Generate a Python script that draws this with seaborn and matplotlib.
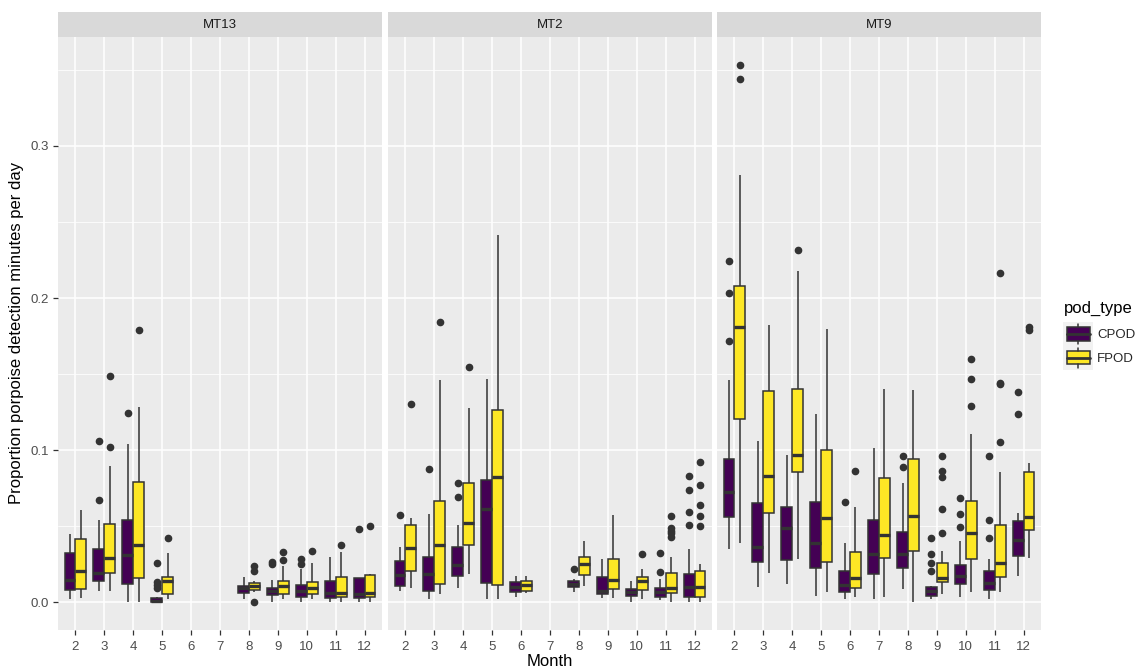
import numpy as np
import pandas as pd
import matplotlib
matplotlib.use("Agg")
import matplotlib.pyplot as plt
import seaborn as sns
from matplotlib.ticker import MultipleLocator, FormatStrFormatter
from matplotlib.legend_handler import HandlerBase
from matplotlib.patches import Rectangle, Patch
from matplotlib.lines import Line2D

months = [2, 3, 4, 5, 6, 7, 8, 9, 10, 11, 12]
pod_types = ["CPOD", "FPOD"]
sites = ["MT13", "MT2", "MT9"]
pod_colors = ["#440154", "#FDE725"]

# month, whisker low, q1, median, q3, whisker high
mt13_cpod = [
    (2, 0.0022, 0.0079, 0.0145, 0.0324, 0.0447),
    (3, 0.0070, 0.0140, 0.0189, 0.0347, 0.0540),
    (4, 0.0002, 0.0116, 0.0307, 0.0537, 0.1040),
    (5, 0.0000, 0.0002, 0.0010, 0.0024, 0.0030),
    (8, 0.0018, 0.0061, 0.0094, 0.0105, 0.0166),
    (9, 0.0000, 0.0046, 0.0072, 0.0094, 0.0145),
    (10, 0.0000, 0.0035, 0.0072, 0.0112, 0.0215),
    (11, 0.0000, 0.0024, 0.0061, 0.0140, 0.0294),
    (12, 0.0000, 0.0024, 0.0050, 0.0160, 0.0160),
]
mt13_cpod_out = {3: [0.067, 0.106], 4: [0.1245], 5: [0.009, 0.011, 0.013, 0.026],
                 9: [0.025, 0.0265], 10: [0.025, 0.0283], 12: [0.048]}

mt13_fpod = [
    (2, 0.0028, 0.0083, 0.0202, 0.0414, 0.0607),
    (3, 0.0072, 0.0189, 0.0292, 0.0511, 0.0895),
    (4, 0.0002, 0.0158, 0.0377, 0.0792, 0.1285),
    (5, 0.0018, 0.0053, 0.0138, 0.0167, 0.0320),
    (8, 0.0065, 0.0078, 0.0105, 0.0125, 0.0140),
    (9, 0.0018, 0.0053, 0.0105, 0.0140, 0.0240),
    (10, 0.0018, 0.0050, 0.0092, 0.0135, 0.0255),
    (11, 0.0000, 0.0031, 0.0061, 0.0162, 0.0330),
    (12, 0.0000, 0.0035, 0.0057, 0.0178, 0.0185),
]
mt13_fpod_out = {3: [0.102, 0.149], 4: [0.179], 5: [0.0419], 8: [0.0, 0.0204, 0.0237],
                 9: [0.0275, 0.033], 10: [0.0336], 11: [0.0375], 12: [0.0502]}

mt2_cpod = [
    (2, 0.0072, 0.0105, 0.0178, 0.0272, 0.0360),
    (3, 0.0022, 0.0074, 0.0182, 0.0294, 0.0579),
    (4, 0.0090, 0.0171, 0.0241, 0.0362, 0.0507),
    (5, 0.0018, 0.0127, 0.0612, 0.0803, 0.1467),
    (6, 0.0035, 0.0068, 0.0101, 0.0134, 0.0171),
    (8, 0.0064, 0.0097, 0.0120, 0.0140, 0.0151),
    (9, 0.0029, 0.0053, 0.0070, 0.0164, 0.0281),
    (10, 0.0000, 0.0041, 0.0066, 0.0086, 0.0138),
    (11, 0.0011, 0.0033, 0.0066, 0.0094, 0.0149),
    (12, 0.0000, 0.0035, 0.0097, 0.0184, 0.0351),
]
mt2_cpod_out = {2: [0.0572], 3: [0.0875], 4: [0.0693, 0.0785], 8: [0.0215],
                11: [0.0197, 0.0324], 12: [0.0507, 0.059, 0.0737, 0.0827]}

mt2_fpod = [
    (2, 0.0092, 0.0202, 0.0355, 0.0509, 0.0550),
    (3, 0.0051, 0.0118, 0.0377, 0.0664, 0.1460),
    (4, 0.0182, 0.0375, 0.0518, 0.0781, 0.1274),
    (5, 0.0022, 0.0110, 0.0822, 0.1263, 0.2414),
    (6, 0.0060, 0.0074, 0.0110, 0.0138, 0.0171),
    (8, 0.0105, 0.0180, 0.0252, 0.0294, 0.0399),
    (9, 0.0029, 0.0086, 0.0143, 0.0283, 0.0575),
    (10, 0.0018, 0.0079, 0.0136, 0.0166, 0.0219),
    (11, 0.0000, 0.0059, 0.0090, 0.0189, 0.0294),
    (12, 0.0000, 0.0035, 0.0101, 0.0202, 0.0248),
]
mt2_fpod_out = {2: [0.130], 3: [0.184], 4: [0.1548], 10: [0.0314],
                11: [0.043, 0.0452, 0.047, 0.0487, 0.0564],
                12: [0.050, 0.0564, 0.0638, 0.0772, 0.0923]}

mt9_cpod = [
    (2, 0.0349, 0.0561, 0.0722, 0.0939, 0.1460),
    (3, 0.0099, 0.0263, 0.0362, 0.0653, 0.1059),
    (4, 0.0118, 0.0276, 0.0485, 0.0627, 0.0965),
    (5, 0.0041, 0.0226, 0.0386, 0.0656, 0.1239),
    (6, 0.0022, 0.0068, 0.0114, 0.0206, 0.0386),
    (7, 0.0018, 0.0186, 0.0314, 0.0539, 0.1011),
    (8, 0.0086, 0.0224, 0.0318, 0.0458, 0.0781),
    (9, 0.0018, 0.0041, 0.0074, 0.0099, 0.0105),
    (10, 0.0035, 0.0116, 0.0173, 0.0243, 0.0399),
    (11, 0.0018, 0.0077, 0.0123, 0.0206, 0.0285),
    (12, 0.0173, 0.0305, 0.0408, 0.0533, 0.0583),
]
mt9_cpod_out = {2: [0.1717, 0.2035, 0.2243], 6: [0.0658], 8: [0.0886, 0.0958],
                9: [0.0202, 0.0255, 0.0316, 0.0423], 10: [0.0493, 0.058, 0.0686],
                11: [0.0423, 0.0539, 0.0958], 12: [0.1235, 0.1382]}

mt9_fpod = [
    (2, 0.0386, 0.1202, 0.1807, 0.2081, 0.2809),
    (3, 0.0189, 0.0583, 0.0829, 0.1386, 0.1820),
    (4, 0.0285, 0.0853, 0.0969, 0.1401, 0.2178),
    (5, 0.0068, 0.0265, 0.0551, 0.0998, 0.1796),
    (6, 0.0035, 0.0094, 0.0156, 0.0331, 0.0623),
    (7, 0.0035, 0.0291, 0.0441, 0.0814, 0.1400),
    (8, 0.0000, 0.0336, 0.0568, 0.0943, 0.1393),
    (9, 0.0055, 0.0134, 0.0160, 0.0255, 0.0337),
    (10, 0.0064, 0.0286, 0.0452, 0.0666, 0.1103),
    (11, 0.0064, 0.0166, 0.0255, 0.0507, 0.0853),
    (12, 0.0288, 0.0474, 0.0557, 0.0857, 0.0913),
]
mt9_fpod_out = {2: [0.3439, 0.3535], 4: [0.2316], 6: [0.086],
                9: [0.0452, 0.0612, 0.082, 0.0862, 0.0958],
                10: [0.1291, 0.1465, 0.1599], 11: [0.1051, 0.1437, 0.1443, 0.2167],
                12: [0.179, 0.181]}

site_data = {
    "MT13": {"CPOD": (mt13_cpod, mt13_cpod_out), "FPOD": (mt13_fpod, mt13_fpod_out)},
    "MT2": {"CPOD": (mt2_cpod, mt2_cpod_out), "FPOD": (mt2_fpod, mt2_fpod_out)},
    "MT9": {"CPOD": (mt9_cpod, mt9_cpod_out), "FPOD": (mt9_fpod, mt9_fpod_out)},
}


# turn the five-number summary + outliers into values whose boxplot stats match
def expand(row, outs):
    m, lo, q1, med, q3, hi = row
    low = sorted(o for o in outs if o < q1)
    high = sorted(o for o in outs if o > q3)
    k = max(len(low), len(high)) + 2
    vals = (low + [lo] * (k - len(low)) + [q1] * k + [med] * k
            + [q3] * (k - len(high)) + [hi] + high)
    return vals


records = []
for site in sites:
    for pod in pod_types:
        stats, outs = site_data[site][pod]
        for row in stats:
            for v in expand(row, outs.get(row[0], [])):
                records.append((site, row[0], pod, v))
df = pd.DataFrame(records, columns=["site", "month", "pod_type", "value"])

sns.set_theme(style="darkgrid", rc={"axes.facecolor": "#EBEBEB", "grid.color": "white"})
plt.rcParams["font.family"] = ["Liberation Sans", "DejaVu Sans"]

W, H = 1141, 669
fig = plt.figure(figsize=(W / 100, H / 100), dpi=100)

panel_left = [58, 388, 717]
panel_w = 324
top, bottom = 37, 630
strip_top = 12

for i, site in enumerate(sites):
    ax = fig.add_axes([panel_left[i] / W, (H - bottom) / H, panel_w / W, (bottom - top) / H])
    sns.boxplot(data=df[df.site == site], x="month", y="value", hue="pod_type",
                order=months, hue_order=pod_types, palette=pod_colors,
                width=0.75, saturation=1, linewidth=1.1, linecolor="#333333",
                showcaps=False, legend=False, ax=ax,
                flierprops=dict(marker="o", markersize=4.5, markerfacecolor="#333333",
                                markeredgecolor="#333333"),
                medianprops=dict(linewidth=2.4))
    ax.set_xlim(-0.6, len(months) - 0.4)
    ax.set_ylim(-0.0184, 0.3717)
    ax.yaxis.set_major_locator(MultipleLocator(0.1))
    ax.yaxis.set_minor_locator(MultipleLocator(0.05))
    ax.yaxis.set_major_formatter(FormatStrFormatter("%.1f"))
    ax.grid(True, which="major", color="white", linewidth=1.1)
    ax.grid(True, which="minor", axis="y", color="white", linewidth=0.55)
    ax.set_axisbelow(True)
    for sp in ax.spines.values():
        sp.set_visible(False)
    ax.tick_params(which="major", length=3.5, width=0.9, color="#333333",
                   labelcolor="#4D4D4D", labelsize=9.5, pad=3, bottom=True, left=True)
    ax.tick_params(axis="x", pad=4.5)
    ax.tick_params(which="minor", length=0)
    ax.set_xlabel("")
    ax.set_ylabel("")
    if i > 0:
        ax.tick_params(axis="y", left=False, labelleft=False)

    # facet strip
    sax = fig.add_axes([panel_left[i] / W, (H - top) / H, panel_w / W, (top - strip_top) / H])
    sax.set_facecolor("#D9D9D9")
    sax.set_xticks([])
    sax.set_yticks([])
    for sp in sax.spines.values():
        sp.set_visible(False)
    sax.text(0.5, 0.5, site, ha="center", va="center", fontsize=9.5, color="#1A1A1A",
             transform=sax.transAxes)

fig.text((58 + 1041) / 2 / W, 1 - 662 / H, "Month", ha="center", va="center",
         fontsize=12, color="black")
fig.text(17 / W, 1 - 333 / H, "Proportion porpoise detection minutes per day",
         ha="center", va="center", rotation=90, fontsize=12, color="black")


class BoxKey(HandlerBase):
    def create_artists(self, legend, orig_handle, xdescent, ydescent, width, height,
                       fontsize, trans):
        x0, y0 = -xdescent, -ydescent
        cx = x0 + width / 2
        bw = width * 0.75
        bg = Rectangle((x0, y0), width, height, facecolor="#F2F2F2", edgecolor="none",
                       transform=trans)
        box = Rectangle((cx - bw / 2, y0 + height * 0.22), bw, height * 0.56,
                        facecolor=orig_handle.get_facecolor(), edgecolor="#333333",
                        linewidth=1.1, transform=trans)
        med = Line2D([cx - bw / 2, cx + bw / 2], [y0 + height / 2] * 2, color="#333333",
                     linewidth=2.0, transform=trans)
        wl = Line2D([cx, cx], [y0 + height * 0.08, y0 + height * 0.22], color="#333333",
                    linewidth=1.1, transform=trans)
        wh = Line2D([cx, cx], [y0 + height * 0.78, y0 + height * 0.92], color="#333333",
                    linewidth=1.1, transform=trans)
        return [bg, box, med, wl, wh]


fig.text(1064 / W, 1 - 308 / H, "pod_type", ha="left", va="center", fontsize=12,
         color="black")
handles = [Patch(facecolor=c) for c in pod_colors]
leg = fig.legend(handles=handles, labels=pod_types, handler_map={Patch: BoxKey()},
                 loc="upper left", bbox_to_anchor=(1063 / W, 1 - 322 / H),
                 frameon=False, fontsize=9.5,
                 handlelength=2.3, handleheight=2.4, labelspacing=0.0,
                 handletextpad=0.3, borderpad=0, borderaxespad=0)

fig.savefig("out.png", dpi=100)
